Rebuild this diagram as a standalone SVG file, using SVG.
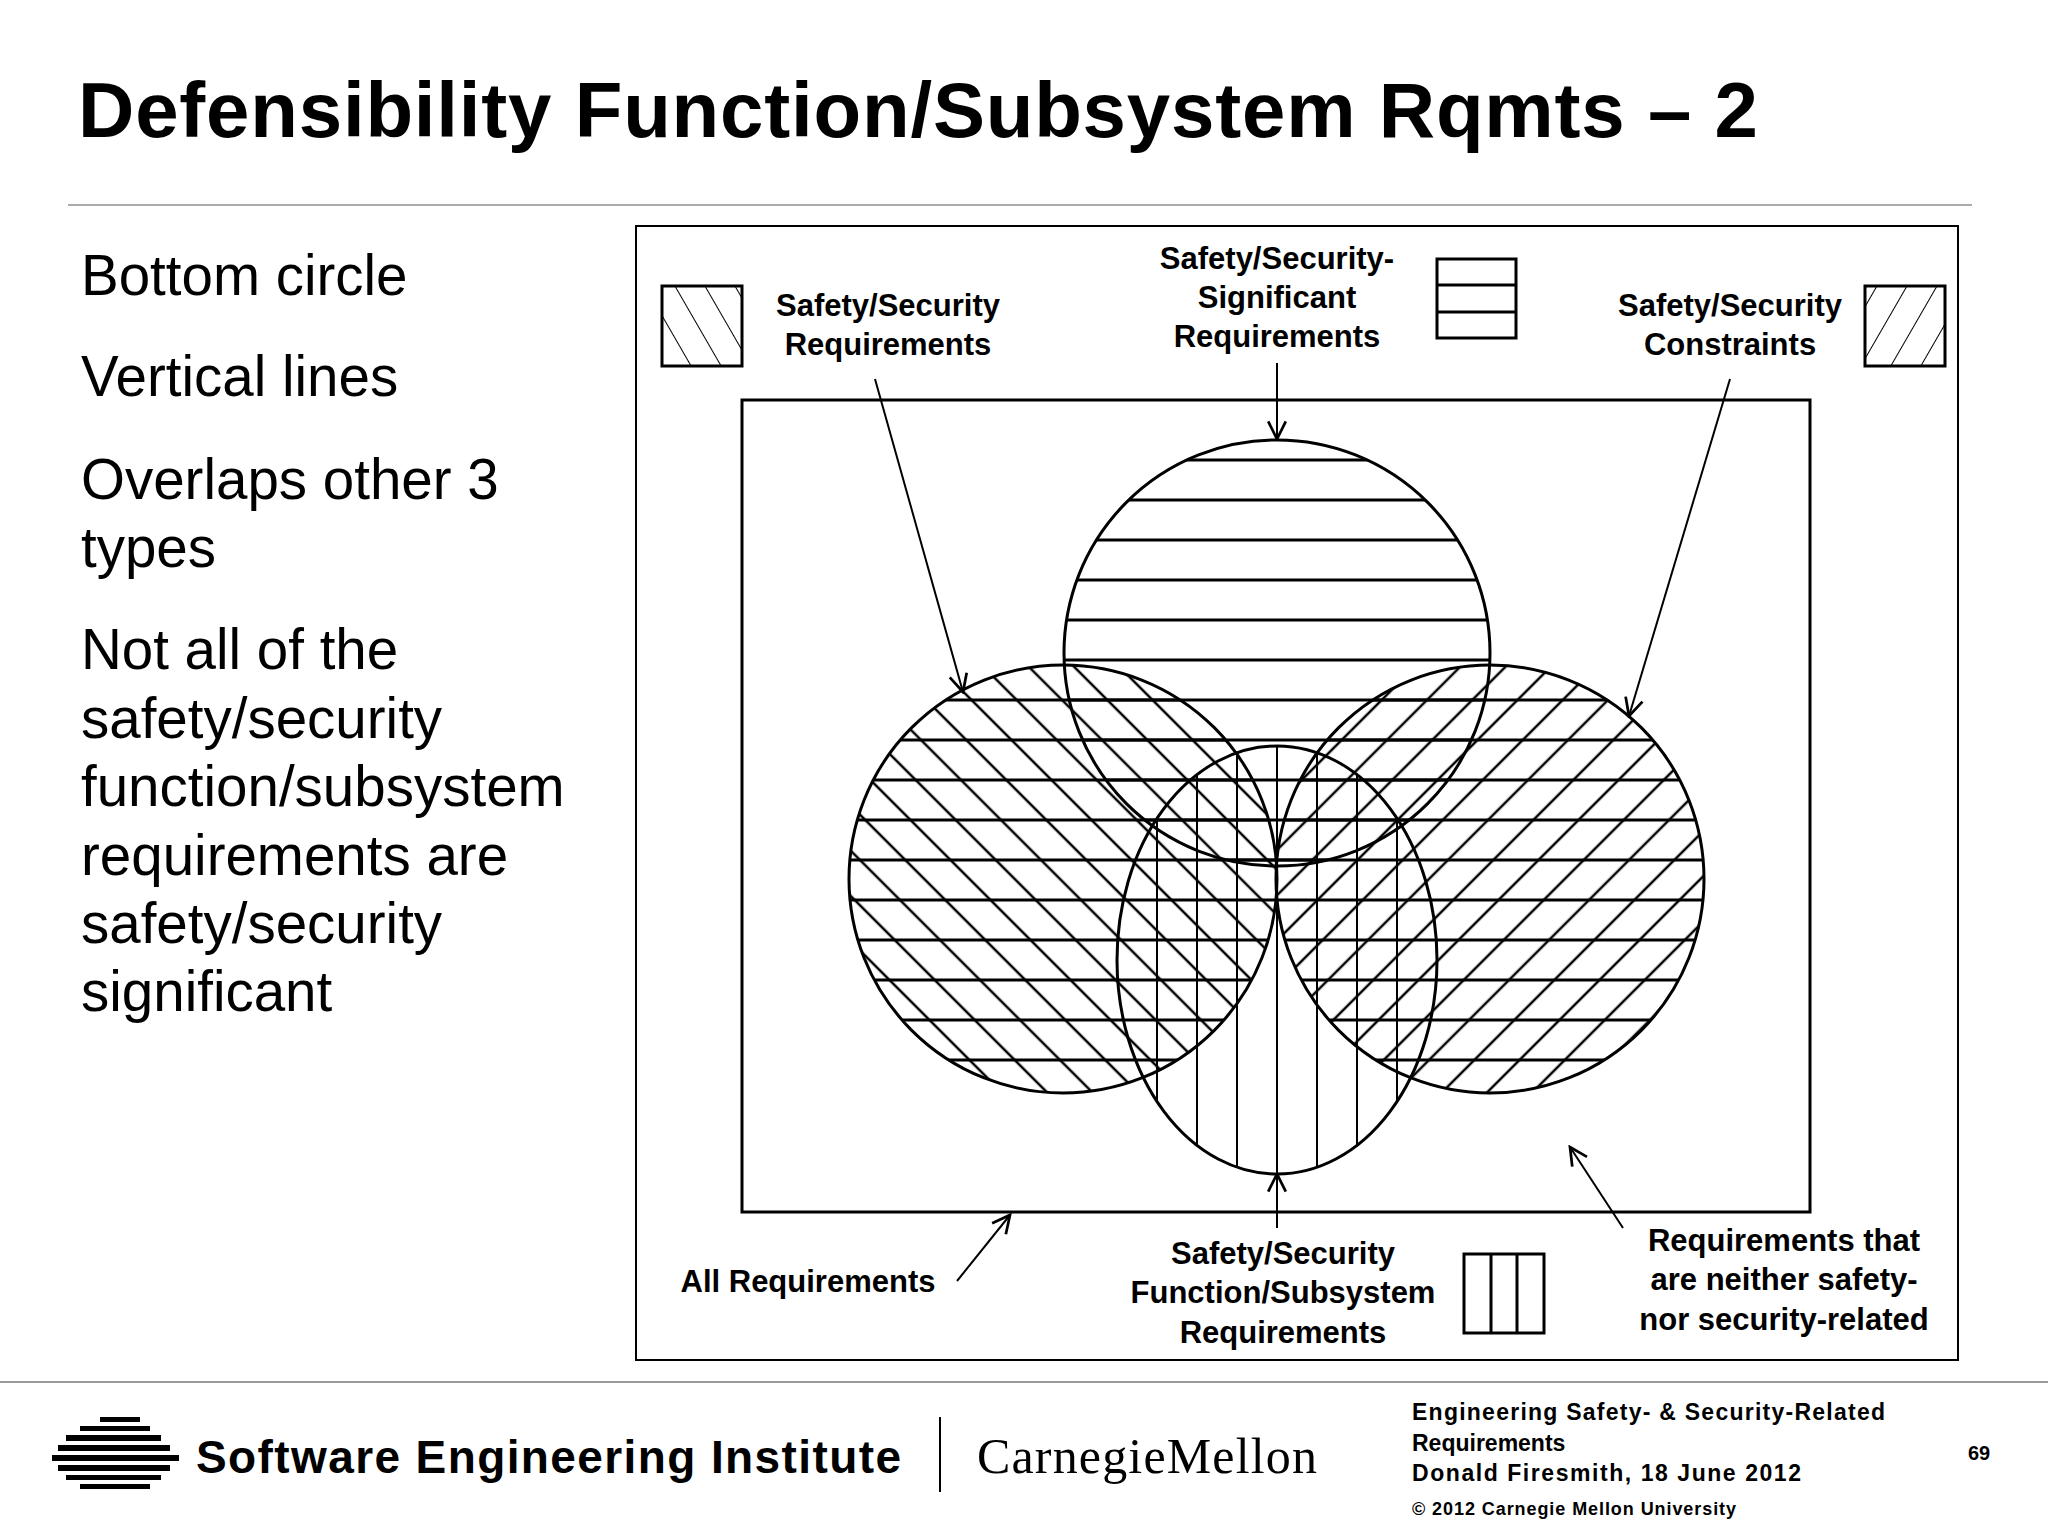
<svg xmlns="http://www.w3.org/2000/svg" width="2048" height="1536" viewBox="0 0 2048 1536">
<style>
.t{font-family:"Liberation Sans",Arial,sans-serif;fill:#000}
.lb{font-family:"Liberation Sans",Arial,sans-serif;font-weight:bold;font-size:31px;text-anchor:middle}
.bul{font-family:"Liberation Sans",Arial,sans-serif;font-size:56.5px}
.ln{stroke:#000;stroke-width:3;fill:none}
.thin{stroke:#000;stroke-width:2;fill:none}
.sh{stroke:#000;stroke-width:3}
</style>
<defs>
<pattern id="ph" patternUnits="userSpaceOnUse" x="0" y="20" width="40" height="40"><line x1="0" y1="0" x2="40" y2="0" stroke="#000" stroke-width="3"/><line x1="0" y1="40" x2="40" y2="40" stroke="#000" stroke-width="3"/></pattern>
<pattern id="pv" patternUnits="userSpaceOnUse" x="37" y="0" width="40" height="40"><line x1="0" y1="0" x2="0" y2="40" stroke="#000" stroke-width="2"/><line x1="40" y1="0" x2="40" y2="40" stroke="#000" stroke-width="2"/></pattern>
<pattern id="pb" patternUnits="userSpaceOnUse" width="32" height="32" patternTransform="rotate(45)"><line x1="0" y1="0" x2="32" y2="0" stroke="#000" stroke-width="2.5"/><line x1="0" y1="32" x2="32" y2="32" stroke="#000" stroke-width="2.5"/></pattern>
<pattern id="pf" patternUnits="userSpaceOnUse" width="32" height="32" patternTransform="rotate(-45)"><line x1="0" y1="0" x2="32" y2="0" stroke="#000" stroke-width="2.5"/><line x1="0" y1="32" x2="32" y2="32" stroke="#000" stroke-width="2.5"/></pattern>
<pattern id="lb" patternUnits="userSpaceOnUse" width="26" height="26" patternTransform="rotate(60)"><line x1="0" y1="0" x2="26" y2="0" stroke="#000" stroke-width="2"/></pattern>
<pattern id="lf" patternUnits="userSpaceOnUse" width="26" height="26" patternTransform="rotate(-60)"><line x1="0" y1="0" x2="26" y2="0" stroke="#000" stroke-width="2"/></pattern>
<marker id="ah" viewBox="0 0 20 20" refX="18" refY="10" markerWidth="22" markerHeight="22" markerUnits="userSpaceOnUse" orient="auto"><path d="M2,2 L18,10 L2,18" fill="none" stroke="#000" stroke-width="2.5"/></marker>
</defs>
<rect width="2048" height="1536" fill="#fff"/>
<text class="t" x="78" y="137" font-size="78" font-weight="bold" textLength="1680">Defensibility Function/Subsystem Rqmts – 2</text>
<line x1="68" y1="205" x2="1972" y2="205" stroke="#aaa" stroke-width="2"/>
<g class="bul">
<text x="81" y="295">Bottom circle</text>
<text x="81" y="396">Vertical lines</text>
<text x="81" y="499">Overlaps other 3</text>
<text x="81" y="567">types</text>
<text x="81" y="669">Not all of the</text>
<text x="81" y="738">safety/security</text>
<text x="81" y="806">function/subsystem</text>
<text x="81" y="875">requirements are</text>
<text x="81" y="943">safety/security</text>
<text x="81" y="1011">significant</text>
</g>
<rect x="636" y="226" width="1322" height="1134" class="thin"/>
<g id="all"><rect x="742" y="400" width="1068" height="812" class="ln"/></g>
<g id="shapes">
<circle cx="1277" cy="653" r="213" fill="url(#ph)"/>
<circle cx="1063" cy="879" r="214" fill="url(#ph)"/>
<circle cx="1490" cy="879" r="214" fill="url(#ph)"/>
<circle cx="1063" cy="879" r="214" fill="url(#pb)"/>
<circle cx="1490" cy="879" r="214" fill="url(#pf)"/>
<ellipse cx="1277" cy="960" rx="160" ry="214" fill="url(#pv)"/>
<circle cx="1277" cy="653" r="213" class="ln"/>
<circle cx="1063" cy="879" r="214" class="ln"/>
<circle cx="1490" cy="879" r="214" class="ln"/>
<ellipse cx="1277" cy="960" rx="160" ry="214" class="ln"/>
</g>
<g id="legend">
<rect x="662" y="286" width="80" height="80" fill="url(#lb)" class="sh"/>
<rect x="1437" y="259" width="79" height="79" fill="#fff" class="sh"/>
<line x1="1437" y1="285" x2="1516" y2="285" class="sh"/><line x1="1437" y1="312" x2="1516" y2="312" class="sh"/>
<rect x="1865" y="286" width="80" height="80" fill="url(#lf)" class="sh"/>
<rect x="1464" y="1254" width="80" height="79" fill="#fff" class="sh"/>
<line x1="1491" y1="1254" x2="1491" y2="1333" class="sh"/><line x1="1517" y1="1254" x2="1517" y2="1333" class="sh"/>
</g>
<g id="labels">
<text class="lb" x="888" y="316">Safety/Security</text><text class="lb" x="888" y="355">Requirements</text>
<text class="lb" x="1277" y="269">Safety/Security-</text><text class="lb" x="1277" y="308">Significant</text><text class="lb" x="1277" y="347">Requirements</text>
<text class="lb" x="1730" y="316">Safety/Security</text><text class="lb" x="1730" y="355">Constraints</text>
<text class="lb" x="1283" y="1264">Safety/Security</text><text class="lb" x="1283" y="1303">Function/Subsystem</text><text class="lb" x="1283" y="1343">Requirements</text>
<text class="lb" x="808" y="1292">All Requirements</text>
<text class="lb" x="1784" y="1251">Requirements that</text><text class="lb" x="1784" y="1290">are neither safety-</text><text class="lb" x="1784" y="1330">nor security-related</text>
</g>
<g id="connectors" class="thin" marker-end="url(#ah)">
<line x1="875" y1="379" x2="963" y2="692"/>
<line x1="1277" y1="363" x2="1277" y2="439"/>
<line x1="1730" y1="379" x2="1629" y2="716"/>
<line x1="1277" y1="1228" x2="1277" y2="1174"/>
<line x1="957" y1="1281" x2="1010" y2="1215"/>
<line x1="1623" y1="1228" x2="1570" y2="1147"/>
</g>
<line x1="0" y1="1382" x2="2048" y2="1382" stroke="#999" stroke-width="2"/>
<g id="logo" fill="#000">
<rect x="100" y="1417" width="40" height="5"/><rect x="80" y="1426" width="70" height="5"/>
<rect x="66" y="1435" width="95" height="6"/><rect x="58" y="1445" width="112" height="6"/>
<rect x="52" y="1455" width="127" height="6"/><rect x="58" y="1465" width="112" height="6"/>
<rect x="66" y="1475" width="95" height="5"/><rect x="80" y="1484" width="70" height="5"/>
</g>
<text class="t" x="196" y="1473" font-size="46" font-weight="bold" textLength="705">Software Engineering Institute</text>
<line x1="940" y1="1417" x2="940" y2="1492" stroke="#000" stroke-width="2"/>
<text x="977" y="1473" font-size="50" font-family="'Liberation Serif',serif" textLength="340">CarnegieMellon</text>
<g class="t" font-weight="bold" font-size="23">
<text x="1412" y="1420" textLength="473">Engineering Safety- &amp; Security-Related</text>
<text x="1412" y="1451">Requirements</text>
<text x="1412" y="1481" textLength="389">Donald Firesmith,  18 June 2012</text>
<text x="1412" y="1515" font-size="18" textLength="324">© 2012 Carnegie Mellon University</text>
<text x="1968" y="1460" font-size="20">69</text>
</g>
</svg>
